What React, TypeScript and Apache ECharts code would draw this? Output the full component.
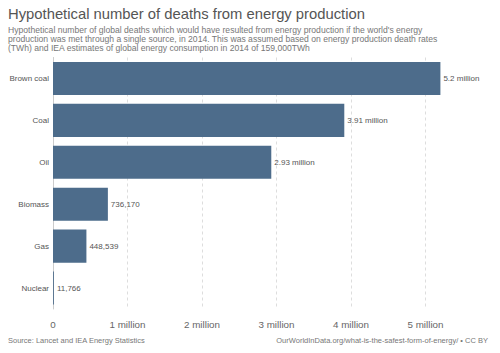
import React, { useEffect, useRef } from "react";
import * as echarts from "echarts";

const categories = ["Brown coal", "Coal", "Oil", "Biomass", "Gas", "Nuclear"];
const deaths = [5200000, 3910000, 2930000, 736170, 448539, 11766];
const tickLabels = ["0", "1 million", "2 million", "3 million", "4 million", "5 million"];

const titleText = "Hypothetical number of deaths from energy production";
const subtitleText =
  "Hypothetical number of global deaths which would have resulted from energy production if the world's energy\nproduction was met through a single source, in 2014. This was assumed based on energy production death rates\n(TWh) and IEA estimates of global energy consumption in 2014 of 159,000TWh";
const sourceText = "Source: Lancet and IEA Energy Statistics";
const urlText = "OurWorldInData.org/what-is-the-safest-form-of-energy/ • CC BY";

const FONT = "'Liberation Sans', Arial, sans-serif";

function fmt(v: number): string {
  if (v >= 1e6) {
    const m = Math.round((v / 1e6) * 100) / 100;
    return m + " million";
  }
  return v.toLocaleString("en-US");
}

export default function App() {
  const ref = useRef<HTMLDivElement>(null);
  useEffect(() => {
    if (!ref.current) return;
    const chart = echarts.init(ref.current, null, { renderer: "svg" });
    chart.setOption({
      animation: false,
      backgroundColor: "#ffffff",
      title: [
        {
          text: titleText,
          left: 8,
          top: 6,
          padding: 0,
          textStyle: { fontSize: 14.8, fontWeight: "normal", color: "#555", fontFamily: FONT },
        },
        {
          text: subtitleText,
          left: 8,
          top: 25,
          padding: 0,
          textStyle: { fontSize: 8.6, lineHeight: 9.2, fontWeight: "normal", color: "#777", fontFamily: FONT },
        },
        {
          text: sourceText,
          left: 8,
          top: 336,
          padding: 0,
          textStyle: { fontSize: 7.5, fontWeight: "normal", color: "#777", fontFamily: FONT },
        },
        {
          text: urlText,
          right: 12,
          top: 336,
          padding: 0,
          textStyle: { fontSize: 7.5, fontWeight: "normal", color: "#777", fontFamily: FONT },
        },
      ],
      grid: { left: 53, right: -4, top: 57.5, bottom: 44, containLabel: false },
      xAxis: {
        type: "value",
        min: 0,
        max: 6000000,
        interval: 1000000,
        axisLine: { show: false },
        axisTick: { show: false },
        splitLine: { show: true, lineStyle: { color: "#ddd", type: [3, 3], width: 1 } },
        axisLabel: {
          showMaxLabel: false,
          margin: 10,
          color: "#666",
          fontSize: 9.8,
          fontFamily: FONT,
          formatter: (v: number) => {
            const i = Math.round(v / 1e6);
            return Math.abs(v - i * 1e6) < 1 ? tickLabels[i] ?? "" : "";
          },
        },
      },
      yAxis: {
        type: "category",
        data: categories,
        inverse: true,
        axisLine: { show: true, lineStyle: { color: "#ccc" } },
        axisTick: { show: false },
        axisLabel: { color: "#555", fontSize: 8, margin: 4, fontFamily: FONT },
      },
      series: [
        {
          type: "bar",
          data: deaths,
          barCategoryGap: "21%",
          itemStyle: { color: "#4d6c8b" },
          label: {
            show: true,
            position: "right",
            distance: 3,
            color: "#555",
            fontSize: 8,
            fontFamily: FONT,
            formatter: (p: any) => fmt(p.value),
          },
        },
      ],
    });
    return () => chart.dispose();
  }, []);
  return (
    <div
      ref={ref}
      style={{ position: "fixed", left: 0, top: 0, width: 500, height: 353 }}
    />
  );
}
